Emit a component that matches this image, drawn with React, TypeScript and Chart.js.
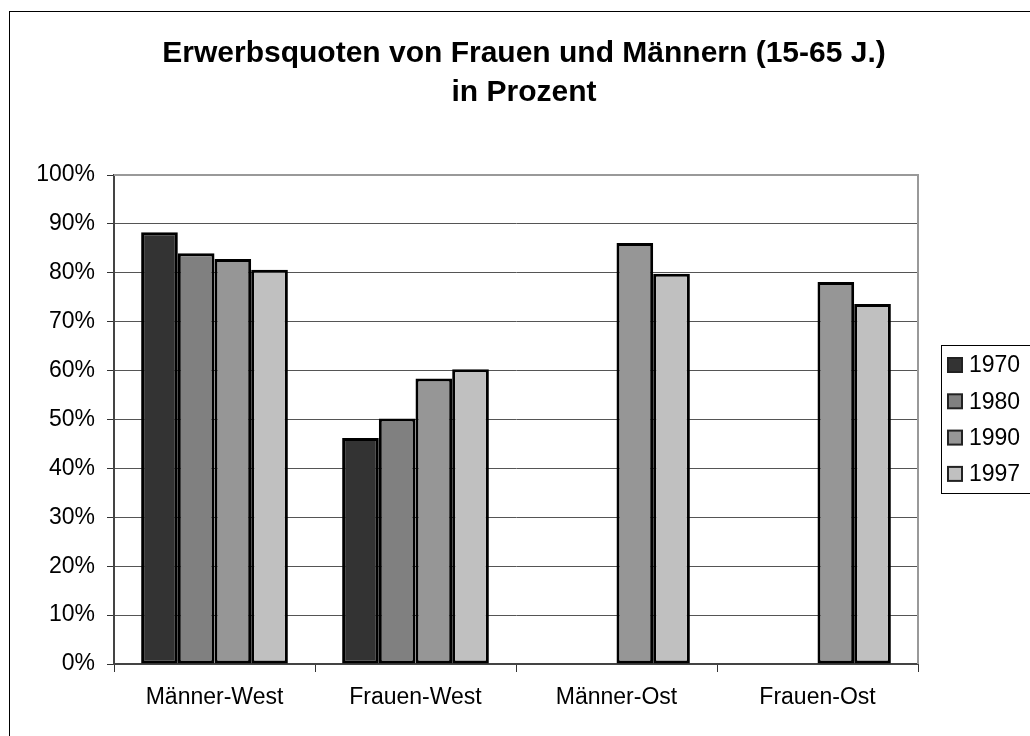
import React, { useEffect, useRef } from "react";
import { Chart, registerables } from "chart.js";

Chart.register(...registerables);

const categories = ["Männer-West", "Frauen-West", "Männer-Ost", "Frauen-Ost"];
const years = ["1970", "1980", "1990", "1997"];
const values1970 = [88.3, 46.2, null, null];
const values1980 = [84.0, 50.2, null, null];
const values1990 = [82.8, 58.4, 86.1, 78.1];
const values1997 = [80.6, 60.3, 79.8, 73.6];
const colors = ["#333333", "#808080", "#969696", "#C0C0C0"];
const titleLines = ["Erwerbsquoten von Frauen und Männern (15-65 J.)", "in Prozent"];

const FONT = "'Liberation Sans', Arial, Helvetica, sans-serif";

const frame = {
  id: "frame",
  beforeDraw(chart: any) {
    const ctx = chart.ctx;
    ctx.save();
    ctx.fillStyle = "#ffffff";
    ctx.fillRect(0, 0, chart.width, chart.height);
    ctx.strokeStyle = "#000000";
    ctx.lineWidth = 1;
    ctx.strokeRect(9.5, 11.5, 1040, 740);
    ctx.restore();
  },
  afterDatasetsDraw(chart: any) {
    const ctx = chart.ctx;
    const a = chart.chartArea;
    ctx.save();
    ctx.strokeStyle = "#999999";
    ctx.lineWidth = 2;
    ctx.beginPath();
    ctx.moveTo(a.left, a.top);
    ctx.lineTo(a.right, a.top);
    ctx.lineTo(a.right, a.bottom);
    ctx.stroke();
    ctx.restore();
  },
  afterDraw(chart: any) {
    const ctx = chart.ctx;
    ctx.save();
    // title
    ctx.fillStyle = "#000000";
    ctx.font = `bold 30px ${FONT}`;
    ctx.textAlign = "center";
    ctx.textBaseline = "alphabetic";
    ctx.fillText(titleLines[0], 524, 62);
    ctx.fillText(titleLines[1], 524, 101);
    // legend
    const left = 941;
    const top = 345;
    ctx.fillStyle = "#ffffff";
    ctx.fillRect(left, top, 120, 148);
    ctx.strokeStyle = "#000000";
    ctx.lineWidth = 1;
    ctx.strokeRect(left + 0.5, top + 0.5, 120, 148);
    ctx.font = `23px ${FONT}`;
    ctx.textBaseline = "middle";
    ctx.textAlign = "left";
    chart.data.datasets.forEach((ds: any, i: number) => {
      const cy = 365 + i * 36.3;
      ctx.fillStyle = ds.backgroundColor;
      ctx.fillRect(948, cy - 7, 14, 14);
      ctx.strokeStyle = "#222222";
      ctx.lineWidth = 2;
      ctx.strokeRect(948, cy - 7, 14, 14);
      ctx.fillStyle = "#000000";
      ctx.fillText(ds.label, 969, cy + 1);
    });
    ctx.restore();
  },
};

export default function App() {
  const ref = useRef<HTMLCanvasElement>(null);
  useEffect(() => {
    document.body.style.margin = "0";
    const seriesValues = [values1970, values1980, values1990, values1997];
    const chart = new Chart(ref.current as HTMLCanvasElement, {
      type: "bar",
      data: {
        labels: categories,
        datasets: years.map((y, i) => ({
          label: y,
          data: seriesValues[i],
          backgroundColor: colors[i],
          borderColor: "#000000",
          borderWidth: 3,
          borderSkipped: false,
          categoryPercentage: 0.73,
          barPercentage: 1.0,
        })),
      },
      options: {
        animation: false,
        responsive: false,
        layout: { padding: { left: 0, right: 112, top: 175, bottom: 12 } },
        plugins: {
          legend: { display: false },
          tooltip: { enabled: false },
          title: { display: false },
        },
        scales: {
          x: {
            grid: {
              offset: true,
              drawOnChartArea: false,
              drawTicks: true,
              tickLength: 8,
              color: "#333333",
              lineWidth: 1,
            },
            border: { color: "#444444", width: 2 },
            ticks: { color: "#000000", font: { family: FONT, size: 23 }, padding: 12 },
            afterFit: (s: any) => {
              s.height = 60;
            },
          },
          y: {
            min: 0,
            max: 100,
            grid: {
              color: (c: any) => (c.tick && c.tick.value === 100 ? "rgba(0,0,0,0)" : "#555555"),
              lineWidth: 1,
              tickLength: 7,
              drawTicks: true,
              tickColor: "#333333",
            },
            border: { color: "#444444", width: 2 },
            ticks: {
              stepSize: 10,
              color: "#000000",
              font: { family: FONT, size: 23 },
              padding: 12,
              callback: (v: any) => v + "%",
            },
            afterFit: (s: any) => {
              s.width = 114;
            },
          },
        },
      },
      plugins: [frame],
    });
    return () => chart.destroy();
  }, []);
  return <canvas ref={ref} width={1030} height={736} style={{ display: "block" }} />;
}
